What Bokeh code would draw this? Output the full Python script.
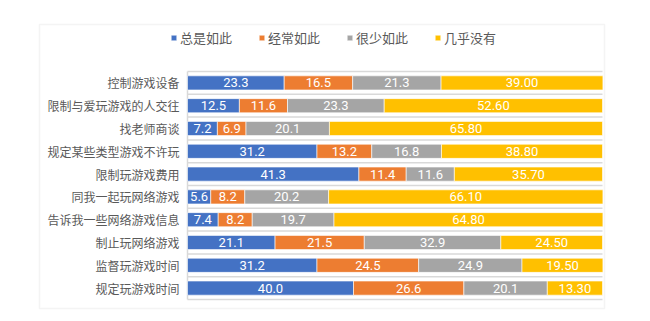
from bokeh.plotting import figure
from bokeh.models import ColumnDataSource, Range1d, Legend, LegendItem, BoxAnnotation
from bokeh.core.properties import value
from bokeh.embed import file_html
from bokeh.resources import INLINE

categories = ["控制游戏设备", "限制与爱玩游戏的人交往", "找老师商谈", "规定某些类型游戏不许玩",
              "限制玩游戏费用", "同我一起玩网络游戏", "告诉我一些网络游戏信息", "制止玩网络游戏",
              "监督玩游戏时间", "规定玩游戏时间"]
series_names = ["总是如此", "经常如此", "很少如此", "几乎没有"]
always = [23.3, 12.5, 7.2, 31.2, 41.3, 5.6, 7.4, 21.1, 31.2, 40.0]
often = [16.5, 11.6, 6.9, 13.2, 11.4, 8.2, 8.2, 21.5, 24.5, 26.6]
rarely = [21.3, 23.3, 20.1, 16.8, 11.6, 20.2, 19.7, 32.9, 24.9, 20.1]
never = [39.00, 52.60, 65.80, 38.80, 35.70, 66.10, 64.80, 24.50, 19.50, 13.30]
colors = ["#4472C4", "#ED7D31", "#A5A5A5", "#FFC000"]

W, H = 650, 321
# plot-area placement in pixels
PL, PR, PT, PB = 187, 602, 71, 299
n = len(categories)
xs = (PR - PL) / 100.0
ys = (PB - PT) / n

p = figure(width=W, height=H, output_backend="svg", toolbar_location=None,
           x_range=Range1d(-PL / xs, (W - PL) / xs),
           y_range=Range1d(-(H - PB) / ys, n + PT / ys),
           min_border=0)
p.axis.visible = False
p.grid.visible = False
p.outline_line_color = None
p.background_fill_color = "white"
p.border_fill_color = "white"

ypos = [n - 0.5 - i for i in range(n)]
keys = ["s0", "s1", "s2", "s3"]
source = ColumnDataSource(dict(y=ypos, cat=categories, s0=always, s1=often, s2=rarely, s3=never))

# category gridlines and axis line
bounds = list(range(n + 1))
p.segment(x0=[0] * len(bounds), x1=[100] * len(bounds), y0=bounds, y1=bounds,
          line_color="#d9d9d9", line_width=1.5)
p.segment(x0=[0], x1=[0], y0=[0], y1=[n], line_color="#d9d9d9", line_width=1.5)

renderers = p.hbar_stack(keys, y="y", height=0.62, color=colors, source=source,
                         line_color="white", line_width=0.6)

# value labels
series = [always, often, rarely, never]
for k, vals in enumerate(series):
    left = [sum(s[i] for s in series[:k]) for i in range(n)]
    mids = [left[i] + vals[i] / 2 for i in range(n)]
    fmt = "{:.2f}" if k == 3 else "{:.1f}"
    ls = ColumnDataSource(dict(x=mids, y=ypos, t=[fmt.format(v) for v in vals]))
    p.text(x="x", y="y", text="t", source=ls, text_color="white",
           text_font=value("Roboto"), text_font_size="13px",
           text_align="center", text_baseline="middle")

# category labels (left axis)
p.text(x=[0] * n, y=ypos, text=categories, x_offset=-8, text_align="right",
       text_baseline="middle", text_color="#595959",
       text_font=value("Noto Sans CJK SC"), text_font_size="12px")

# legend
items = [LegendItem(label=nm, renderers=[r]) for nm, r in zip(series_names, renderers)]
legend = Legend(items=items, orientation="horizontal", location=(170, 274),
                glyph_width=7, glyph_height=7, label_standoff=3, spacing=26,
                padding=0, margin=0, border_line_color=None, background_fill_alpha=0,
                label_text_font="Noto Sans CJK SC", label_text_font_size="13px",
                label_text_color="#595959")
p.add_layout(legend, "center")

# outer chart border (screen y measured from the bottom)
box = BoxAnnotation(left=39, right=604, top=H - 24, bottom=H - 308,
                    left_units="screen", right_units="screen",
                    top_units="screen", bottom_units="screen",
                    fill_alpha=0, line_color="#d9d9d9", line_width=1.5)
p.add_layout(box)

open("out.html", "w").write(file_html(p, INLINE))
